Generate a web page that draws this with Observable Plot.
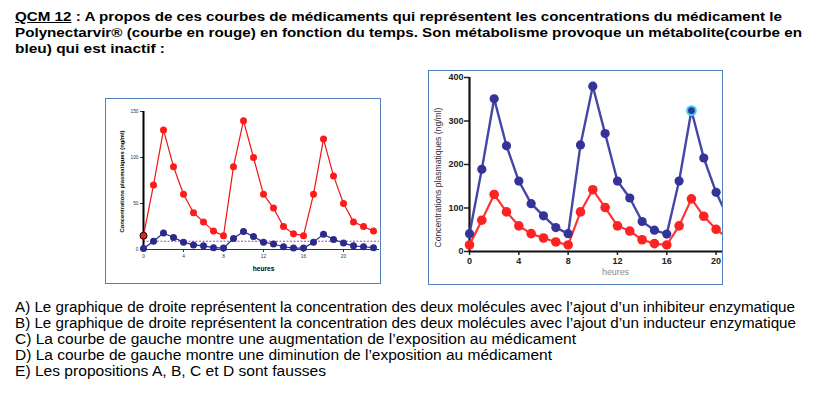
<!DOCTYPE html>
<html><head><meta charset="utf-8">
<script src="https://cdn.jsdelivr.net/npm/d3@7"></script>
<script src="https://cdn.jsdelivr.net/npm/@observablehq/plot@0.6"></script>
<style>
html,body{margin:0;padding:0;background:#fff}
body{width:825px;height:393px;position:relative;overflow:hidden;font-family:"Liberation Sans",Arial,sans-serif;color:#000}
.ln{position:absolute;white-space:nowrap;transform-origin:0 0}
.t{font-weight:bold;font-size:13px;line-height:13px}
.o{font-size:14px;line-height:14px}
.frame{position:absolute;border:1.5px solid #4f81bd;box-sizing:border-box;pointer-events:none}
.chart{position:absolute}
.chart svg{overflow:hidden;display:block}
</style></head><body>
<script>
// ---- Texte ----
const enonce = [
  "QCM 12 : A propos de ces courbes de médicaments qui représentent les concentrations du médicament le",
  "Polynectarvir® (courbe en rouge) en fonction du temps. Son métabolisme provoque un métabolite(courbe en",
  "bleu) qui est inactif :"
];
const propositions = [
  "A) Le graphique de droite représentent la concentration des deux molécules avec l’ajout d’un inhibiteur enzymatique",
  "B) Le graphique de droite représentent la concentration des deux molécules avec l’ajout d’un inducteur enzymatique",
  "C) La courbe de gauche montre une augmentation de l’exposition au médicament",
  "D) La courbe de gauche montre une diminution de l’exposition au médicament",
  "E) Les propositions A, B, C et D sont fausses"
];
const labelY = "Concentrations plasmatiques (ng/ml)";
const labelX = "heures";

// ---- Graphique de gauche ----
const heuresGauche = [0,1,2,3,4,5,6,7,8,9,10,11,12,13,14,15,16,17,18,19,20,21,22,23];
const rougeGauche  = [15,70,130,90,60,40,30,20,15,90,140,100,60,45,25,17,15,60,120,80,50,30,25,20];
const bleuGauche   = [1,9,18,13,8,5,4,2,1.5,12,19.5,14,8,6,3,1.5,1.5,8,16.5,11,7,4,3,2];
const seuilGauche  = [9];
const ticksYGauche = [0,50,100,150];

// ---- Graphique de droite ----
const heuresDroite = [0,1,2,3,4,5,6,7,8,9,10,11,12,13,14,15,16,17,18,19,20,21];
const rougeDroite  = [15,72,131,91,59,41,31,22,15,91,142,101,59,47,27,18,15,59,121,81,51,30];
const bleuDroite   = [41,189,351,243,162,110,82,55,41,245,380,271,162,123,69,49,40,162,324,215,136,75];
const pointSurligne = [18];
const ticksYDroite = [0,100,200,300,400];
const ticksX = [0,4,8,12,16,20];

// ---- Mise en page du texte ----
function addLine(html, cls, left, baseline, fs, target) {
  const d = document.createElement("div");
  d.className = "ln " + cls;
  d.innerHTML = html;
  d.style.left = left + "px";
  d.style.top = (baseline - fs * 0.8465) + "px";
  document.body.appendChild(d);
  const w = d.getBoundingClientRect().width;
  if (w > 0) d.style.transform = `scaleX(${target / w})`;
}
const esc = s => s.replace(/&/g,"&amp;").replace(/</g,"&lt;");
const titreBase = [21, 37, 53], titreW = [767, 787, 150];
enonce.forEach((s, i) => {
  let h = esc(s);
  if (i === 0) h = h.replace("QCM 12", "<u>QCM 12</u>");
  addLine(h, "t", 15, titreBase[i], 13, titreW[i]);
});
const propBase = [311.7, 327.8, 343.9, 360, 376.1], propW = [780, 781, 561, 537, 311];
propositions.forEach((s, i) => addLine(esc(s), "o", 15, propBase[i], 14, propW[i]));

// ---- Graphiques ----
const font = "Liberation Sans, Arial, sans-serif";
const gData = heuresGauche.map((h, i) => ({h, r: rougeGauche[i], b: bleuGauche[i]}));
const dData = heuresDroite.map((h, i) => ({h, r: rougeDroite[i], b: bleuDroite[i]}));

const left = Plot.plot({
  width: 276, height: 186,
  marginLeft: 38, marginTop: 13, marginBottom: 35, marginRight: 2,
  x: {domain: [0, 23.6]},
  y: {domain: [0, 150]},
  style: {fontFamily: font, background: "white", color: "#000"},
  marks: [
    Plot.ruleY(seuilGauche, {stroke: "#a040b8", strokeDasharray: "2,1.5", strokeWidth: 1}),
    Plot.axisY({ticks: ticksYGauche, tickSize: 3, tickPadding: 2, fontSize: 4.8, color: "#333", label: null}),
    Plot.axisX({ticks: ticksX, tickSize: 3, tickPadding: 2, fontSize: 4.8, color: "#333", label: null}),
    Plot.ruleY([0], {stroke: "#333", strokeWidth: 1}),
    Plot.ruleX([0], {stroke: "#000", strokeWidth: 2}),
    Plot.line(gData, {x: "h", y: "b", stroke: "#2a2a8a", strokeWidth: 1.2}),
    Plot.dot(gData, {x: "h", y: "b", r: 3.5, fill: "#2a2a8a"}),
    Plot.line(gData, {x: "h", y: "r", stroke: "#f01414", strokeWidth: 1.2}),
    Plot.dot(gData, {x: "h", y: "r", r: 3.5, fill: "#ff1a1a", stroke: d => d.h === 0 ? "#000" : "none", strokeWidth: 1}),
    Plot.text([labelY], {text: d => d, frameAnchor: "left", textAnchor: "middle", lineAnchor: "middle", rotate: -90, dx: -21, dy: 1, fontSize: 5.8, fontWeight: "bold", fill: "#000"}),
    Plot.text([labelX], {text: d => d, frameAnchor: "bottom", textAnchor: "middle", lineAnchor: "middle", dx: 2, dy: 19, fontSize: 6.6, fontWeight: "bold", fill: "#000"})
  ]
});

const right = Plot.plot({
  width: 295, height: 215,
  marginLeft: 41, marginTop: 7, marginBottom: 34, marginRight: 0,
  x: {domain: [0, 20.6]},
  y: {domain: [0, 400]},
  style: {fontFamily: font, background: "white", color: "#000"},
  marks: [
    Plot.axisY({ticks: ticksYDroite, tickSize: 5, tickPadding: 1, fontSize: 9, fontWeight: "bold", color: "#222", strokeWidth: 1.5, label: null}),
    Plot.axisX({ticks: ticksX, tickSize: 4, tickPadding: 2, fontSize: 9, fontWeight: "bold", color: "#222", strokeWidth: 1.5, label: null}),
    Plot.ruleX([0], {stroke: "#111", strokeWidth: 2.2}),
    Plot.ruleY([0], {stroke: "#111", strokeWidth: 2.2}),
    Plot.line(dData, {x: "h", y: "b", stroke: "#4646a8", strokeWidth: 2.4}),
    Plot.line(dData, {x: "h", y: "r", stroke: "#ff3333", strokeWidth: 2.2}),
    Plot.dot(dData, {x: "h", y: "b", r: 4.6, fill: "#343498"}),
    Plot.dot(dData, {x: "h", y: "r", r: 4.8, fill: "#ff2222"}),
    Plot.dot(dData.filter(d => pointSurligne.includes(d.h)), {x: "h", y: "b", r: 4.4, fill: "#343498", stroke: "#3fd2f2", strokeWidth: 2}),
    Plot.text([labelY], {text: d => d, frameAnchor: "left", textAnchor: "middle", lineAnchor: "middle", rotate: -90, dx: -31, dy: 13, fontSize: 8.6, fill: "#333"}),
    Plot.text([labelX], {text: d => d, frameAnchor: "bottom", textAnchor: "middle", lineAnchor: "middle", dx: 19, dy: 21, fontSize: 8.8, fill: "#888"})
  ]
});

function placeChart(svg, x, y, w, h) {
  const c = document.createElement("div");
  c.className = "chart";
  c.style.left = x + "px"; c.style.top = y + "px";
  c.appendChild(svg);
  document.body.appendChild(c);
  const f = document.createElement("div");
  f.className = "frame";
  f.style.left = x + "px"; f.style.top = y + "px";
  f.style.width = w + "px"; f.style.height = h + "px";
  document.body.appendChild(f);
}
placeChart(left, 105, 98, 276, 186);
placeChart(right, 428, 70, 295, 215);
</script>
</body></html>
